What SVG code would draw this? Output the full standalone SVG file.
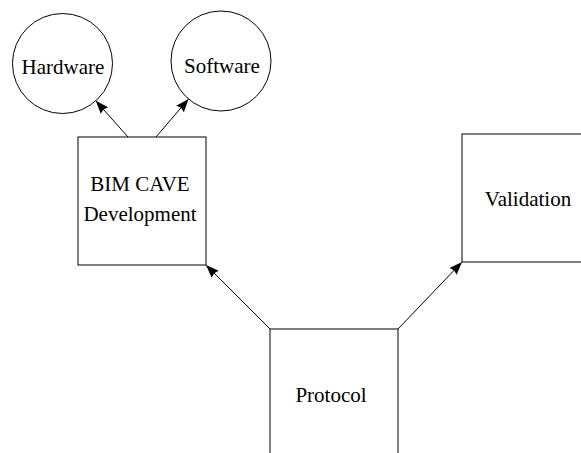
<svg xmlns="http://www.w3.org/2000/svg" width="581" height="453" viewBox="0 0 581 453">
<style>
.shape{fill:#fff;stroke:#000;stroke-width:1}
.lbl{font-family:"Liberation Serif","Times New Roman",serif;font-size:21px;fill:#000;text-anchor:middle}
.edge{stroke:#000;stroke-width:1;fill:none;marker-end:url(#ah)}
</style>
<defs>
<marker id="ah" markerUnits="userSpaceOnUse" markerWidth="14" markerHeight="11" refX="13" refY="5" orient="auto">
<path d="M0,0 L13,5 L0,10 L1.5,5 z" fill="#000"/>
</marker>
</defs>
<g id="connectors">
<line class="edge" x1="128" y1="137" x2="95.8" y2="100.8"/>
<line class="edge" x1="156" y1="137" x2="188.5" y2="99"/>
<line class="edge" x1="270" y1="329" x2="206" y2="265"/>
<line class="edge" x1="398" y1="329" x2="462" y2="262"/>
</g>
<g id="hardware">
<circle class="shape" cx="62.5" cy="63.5" r="50"/>
<text class="lbl" x="63" y="74">Hardware</text>
</g>
<g id="software">
<circle class="shape" cx="221" cy="61" r="50"/>
<text class="lbl" x="222" y="73">Software</text>
</g>
<g id="bim">
<rect class="shape" x="78" y="137" width="128" height="128"/>
<text class="lbl" x="140" y="191">BIM CAVE</text>
<text class="lbl" x="140" y="221">Development</text>
</g>
<g id="validation">
<rect class="shape" x="462" y="134" width="128" height="128"/>
<text class="lbl" x="528" y="206">Validation</text>
</g>
<g id="protocol">
<rect class="shape" x="270" y="329" width="128" height="128"/>
<text class="lbl" x="331" y="402">Protocol</text>
</g>
</svg>
